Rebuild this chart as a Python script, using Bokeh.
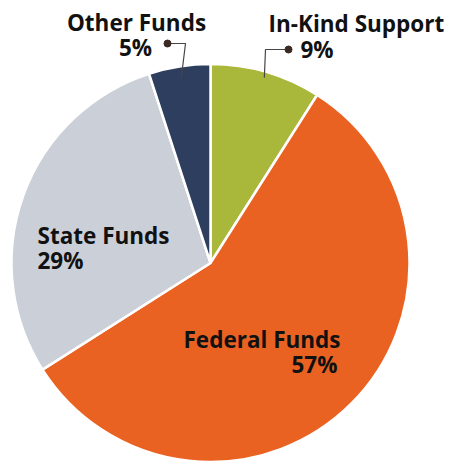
import math
from bokeh.plotting import figure
from bokeh.models import Range1d, ColumnDataSource
from bokeh.core.properties import value
from bokeh.embed import file_html
from bokeh.resources import INLINE

# ---- data ----
categories = ["In-Kind Support", "Federal Funds", "State Funds", "Other Funds"]
percents = [9, 57, 29, 5]
colors = ["#a9b73a", "#ea6222", "#cbcfd8", "#2d3e5f"]
pct_labels = [f"{v}%" for v in percents]

# ---- layout (reference pixel space, y measured up from bottom) ----
W, H = 453, 462
CX, CY, R = 210, H - 262.5, 199
TY = 8  # baseline correction for svg text

p = figure(width=W, height=H, output_backend="svg", toolbar_location=None,
           x_range=Range1d(0, W), y_range=Range1d(0, H), min_border=0)
p.axis.visible = False
p.grid.visible = False
p.outline_line_color = None
p.background_fill_color = "white"

# angles: start at top, clockwise
total = sum(percents)
starts, ends, mids = [], [], []
a = math.pi / 2
for v in percents:
    da = 2 * math.pi * v / total
    starts.append(a)
    ends.append(a - da)
    mids.append(a - da / 2)
    a -= da

src = ColumnDataSource(dict(x=[CX] * 4, y=[CY] * 4, start=ends, end=starts,
                            color=colors, cat=categories))
p.wedge(x="x", y="y", radius=R, start_angle="start", end_angle="end",
        direction="anticlock", fill_color="color", line_color="white",
        line_width=2.5, source=src)

font = value("Open Sans")
FS = "22.5px"
ink = "#111111"

# labels: (x_name, y_name, x_pct, y_pct, align_name, align_pct)
label_pos = {
    "Other Funds": (136, H - 30, 135, H - 55, "center", "center"),
    "In-Kind Support": (268, H - 31, 300, H - 57, "left", "left"),
    "State Funds": (37, H - 243, 37, H - 268, "left", "left"),
    "Federal Funds": (183, H - 347, 337, H - 372, "left", "right"),
}
for i, cat in enumerate(categories):
    xn, yn, xp, yp, an, ap = label_pos[cat]
    p.text(x=[xn], y=[yn + TY], text=[cat], text_font=font, text_font_style="bold",
           text_font_size=FS, text_color=ink, text_align=an, text_baseline="alphabetic")
    p.text(x=[xp], y=[yp + TY], text=[pct_labels[i]], text_font=font, text_font_style="bold",
           text_font_size=FS, text_color=ink, text_align=ap, text_baseline="alphabetic")

# leader lines for the small slices
leaders = {
    "Other Funds": (0.94, (185, H - 43), (167, H - 43)),
    "In-Kind Support": (0.97, (265, H - 49), (288, H - 49)),
}
for cat, (rf, elbow, dot) in leaders.items():
    i = categories.index(cat)
    ax = CX + rf * R * math.cos(mids[i])
    ay = CY + rf * R * math.sin(mids[i])
    p.line(x=[ax, elbow[0], dot[0]], y=[ay, elbow[1], dot[1]],
           line_color="#4a4444", line_width=1.2)
    p.scatter(x=[dot[0]], y=[dot[1]], size=7, fill_color="#3b2a24",
              line_color="#3b2a24")

open("out.html", "w").write(file_html(p, INLINE))
